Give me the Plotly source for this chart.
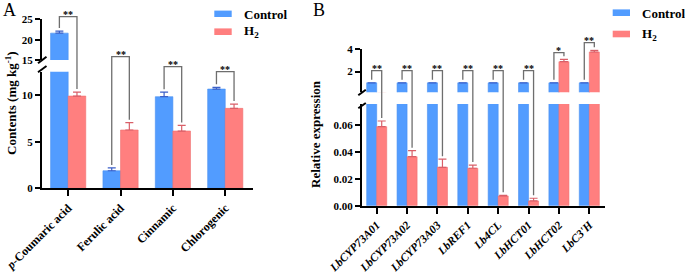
import plotly.graph_objects as go

# ---------------- data ----------------
a_categories = ["<i>p</i>-Coumaric acid", "Ferulic acid", "Cinnamic", "Chlorogenic"]
a_control = [21.6, 1.88, 9.82, 10.64]
a_control_err = [0.5, 0.3, 0.48, 0.18]
a_h2 = [9.89, 6.25, 6.14, 8.57]
a_h2_err = [0.43, 0.78, 0.6, 0.46]
a_sig = ["**", "**", "**", "**"]

b_genes = ["LbCYP73A01", "LbCYP73A02", "LbCYP73A03", "LbREF1", "Lb4CL", "LbHCT01", "LbHCT02", "LbC3'H"]
b_control = [1, 1, 1, 1, 1, 1, 1, 1]
b_control_err = [0, 0, 0, 0, 0, 0, 0, 0]
b_h2 = [0.0586, 0.0364, 0.0285, 0.0278, 0.0073, 0.0036, 2.89, 3.76]
b_h2_err = [0.0042, 0.0044, 0.006, 0.0024, 0.0005, 0.002, 0.21, 0.15]
b_sig = ["**", "**", "**", "**", "**", "**", "*", "**"]

a_yticks_low = [0, 5, 10]
a_yticks_up = [15, 20, 25]
b_yticks_low = [0, 0.02, 0.04, 0.06]
b_yticks_up = [2, 4]

# ---------------- style / geometry (pixels) ----------------
W, H = 685, 274
BLUE = "#529CFF"
RED = "#FF7F7F"
BLUE_ERR = "#3B5FC8"
RED_ERR = "#D95F68"
FONT = "Liberation Serif"

def px(x):
    return x / W

def py(y):
    return 1 - y / H

# Panel A geometry
A_XL, A_XR = 42, 253
A_XR0, A_XR1 = -0.5, 3.53
A_LOW = dict(top=71.7, bot=188.3, r=(0, 12.5))
A_UP = dict(top=19.3, bot=60.0, r=(15, 25))
A_W = 0.336
# Panel B geometry
B_XL, B_XR = 362, 605
B_XR0, B_XR1 = -0.484, 7.517
B_LOW = dict(top=104.0, bot=205.8, r=(0, 0.0754))
B_UP = dict(top=49.3, bot=92.3, r=(0.15, 4))
B_W = 0.33

A_BR_TOP = [16.7, 56.7, 66.7, 71.7]
B_BR_TOP = [70.7, 70.7, 70.7, 70.7, 70.7, 70.7, 52.7, 42.7]
LEG_GAP = 3.0


def xmap(v, xl, xr, r0, r1):
    return xl + (v - r0) / (r1 - r0) * (xr - xl)


def ymap(v, low, up):
    if v <= low["r"][1]:
        return low["bot"] - (v - low["r"][0]) / (low["r"][1] - low["r"][0]) * (low["bot"] - low["top"])
    return up["bot"] - (v - up["r"][0]) / (up["r"][1] - up["r"][0]) * (up["bot"] - up["top"])


fig = go.Figure()

def add_bars(xs, ctrl, ctrl_err, h2, h2_err, w, xa_low, ya_low, xa_up, ya_up):
    n = len(xs)
    for xa, ya in ((xa_low, ya_low), (xa_up, ya_up)):
        fig.add_trace(go.Bar(
            x=xs, y=ctrl, width=[w] * n, offset=-w, xaxis=xa, yaxis=ya,
            marker=dict(color=BLUE, line=dict(color="#4A90F0", width=0.6)),
            error_y=dict(type="data", array=ctrl_err, arrayminus=[0] * n, symmetric=False,
                         color=BLUE_ERR, thickness=1.2, width=4),
            showlegend=False, hoverinfo="skip"))
        fig.add_trace(go.Bar(
            x=xs, y=h2, width=[w] * n, offset=0, xaxis=xa, yaxis=ya,
            marker=dict(color=RED, line=dict(color="#EE7070", width=0.6)),
            error_y=dict(type="data", array=h2_err, arrayminus=[0] * n, symmetric=False,
                         color=RED_ERR, thickness=1.2, width=4),
            showlegend=False, hoverinfo="skip"))

a_x = list(range(len(a_categories)))
b_x = list(range(len(b_genes)))
add_bars(a_x, a_control, a_control_err, a_h2, a_h2_err, A_W, "x", "y", "x2", "y2")
add_bars(b_x, b_control, b_control_err, b_h2, b_h2_err, B_W, "x3", "y3", "x4", "y4")

tickfont = dict(family=FONT, size=11, color="black", weight="bold")
xtickfont = dict(family=FONT, size=12, color="black", weight="bold")
common_y = dict(showline=True, linecolor="black", linewidth=2, ticks="outside", ticklen=5,
                tickwidth=2, tickcolor="black", showgrid=False, zeroline=False,
                tickfont=tickfont, automargin=False, fixedrange=True)
common_x = dict(showline=True, linecolor="black", linewidth=2, ticks="outside", ticklen=6,
                tickwidth=2, tickcolor="black", showgrid=False, zeroline=False,
                tickangle=-45, automargin=False, fixedrange=True)

fig.update_layout(
    xaxis=dict(domain=[px(A_XL), px(A_XR)], range=[A_XR0, A_XR1], anchor="y",
               tickvals=a_x, ticktext=a_categories, tickfont=xtickfont, **common_x),
    yaxis=dict(domain=[py(A_LOW["bot"]), py(A_LOW["top"])], range=list(A_LOW["r"]), anchor="x",
               tickvals=a_yticks_low, **common_y),
    xaxis2=dict(domain=[px(A_XL), px(A_XR)], range=[A_XR0, A_XR1], anchor="y2", visible=False),
    yaxis2=dict(domain=[py(A_UP["bot"]), py(A_UP["top"])], range=list(A_UP["r"]), anchor="x2",
                tickvals=a_yticks_up, **common_y),
    xaxis3=dict(domain=[px(B_XL), px(B_XR)], range=[B_XR0, B_XR1], anchor="y3",
                tickvals=b_x, ticktext=b_genes,
                tickfont=dict(family=FONT, size=11.5, color="black", weight="bold", style="italic"),
                **common_x),
    yaxis3=dict(domain=[py(B_LOW["bot"]), py(B_LOW["top"])], range=list(B_LOW["r"]), anchor="x3",
                tickvals=b_yticks_low, tickformat=".2f", **common_y),
    xaxis4=dict(domain=[px(B_XL), px(B_XR)], range=[B_XR0, B_XR1], anchor="y4", visible=False),
    yaxis4=dict(domain=[py(B_UP["bot"]), py(B_UP["top"])], range=list(B_UP["r"]), anchor="x4",
                tickvals=b_yticks_up, **common_y),
    barmode="overlay",
    width=W, height=H,
    margin=dict(l=0, r=0, t=0, b=0, pad=0, autoexpand=False),
    paper_bgcolor="white", plot_bgcolor="rgba(0,0,0,0)",
    showlegend=False,
    template="none",
)

shapes = []
annotations = []

# significance brackets
def brackets(ctrl, ctrl_err, h2, h2_err, w, tops, sigs, xl, xr, r0, r1, low, up):
    for i in range(len(ctrl)):
        xc = xmap(i - w / 2, xl, xr, r0, r1)
        xh = xmap(i + w / 2, xl, xr, r0, r1)
        ylb = ymap(ctrl[i] + ctrl_err[i], low, up) - LEG_GAP
        yrb = ymap(h2[i] + h2_err[i], low, up) - LEG_GAP
        yt = tops[i]
        path = f"M {px(xc)},{py(ylb)} L {px(xc)},{py(yt)} L {px(xh)},{py(yt)} L {px(xh)},{py(yrb)}"
        shapes.append(dict(type="path", path=path, xref="paper", yref="paper",
                           line=dict(color="#6E6E6E", width=1.3)))
        annotations.append(dict(x=px((xc + xh) / 2), y=py(yt - 2.5), xref="paper", yref="paper",
                                text=sigs[i], showarrow=False, xanchor="center", yanchor="middle",
                                font=dict(family=FONT, size=10, color="black", weight="bold")))

brackets(a_control, a_control_err, a_h2, a_h2_err, A_W, A_BR_TOP, a_sig,
         A_XL, A_XR, A_XR0, A_XR1, A_LOW, A_UP)
brackets(b_control, b_control_err, b_h2, b_h2_err, B_W, B_BR_TOP, b_sig,
         B_XL, B_XR, B_XR0, B_XR1, B_LOW, B_UP)

# axis break slashes
for (x0, y0, x1, y1) in [(38, 63.3, 46.5, 56.7), (38, 72.2, 46.5, 66.0),
                         (358.3, 95.2, 365.8, 89.8), (358.3, 108.3, 365.8, 103.0)]:
    shapes.append(dict(type="line", xref="paper", yref="paper", x0=px(x0), y0=py(y0),
                       x1=px(x1), y1=py(y1), line=dict(color="black", width=2)))

# legends (drawn)
for (bx0, bx1, ys, tx) in [(214.3, 231.7, [(10.6, 17.0), (28.4, 35.0)], 241.5),
                           (612.7, 630.0, [(9.4, 16.0), (30.7, 37.3)], 640.0)]:
    for (col, (y0, y1), label) in zip([BLUE, RED], ys, ["Control", "H<sub>2</sub>"]):
        shapes.append(dict(type="rect", xref="paper", yref="paper", x0=px(bx0), x1=px(bx1),
                           y0=py(y1), y1=py(y0), fillcolor=col, line=dict(width=0)))
        annotations.append(dict(x=px(tx), y=py((y0 + y1) / 2 + 0.3), xref="paper", yref="paper",
                                text=label, showarrow=False, xanchor="left", yanchor="middle",
                                font=dict(family=FONT, size=13, color="black", weight="bold")))

# axis titles
annotations.append(dict(x=px(11), y=py(103), xref="paper", yref="paper",
                        text="Contents (mg kg<sup>-1</sup>)", textangle=-90, showarrow=False,
                        xanchor="center", yanchor="middle",
                        font=dict(family=FONT, size=13, color="black", weight="bold")))
annotations.append(dict(x=px(315), y=py(134), xref="paper", yref="paper",
                        text="Relative expression", textangle=-90, showarrow=False,
                        xanchor="center", yanchor="middle",
                        font=dict(family=FONT, size=13, color="black", weight="bold")))

# panel labels
annotations.append(dict(x=px(9), y=py(10), xref="paper", yref="paper", text="A",
                        showarrow=False, xanchor="center", yanchor="middle",
                        font=dict(family=FONT, size=18, color="black")))
annotations.append(dict(x=px(319), y=py(10), xref="paper", yref="paper", text="B",
                        showarrow=False, xanchor="center", yanchor="middle",
                        font=dict(family=FONT, size=18, color="black")))

fig.update_layout(shapes=shapes, annotations=annotations)
fig.write_html("out.html", config={"displayModeBar": False},
               post_script="document.body.style.margin='0px';document.body.style.padding='0px';")
